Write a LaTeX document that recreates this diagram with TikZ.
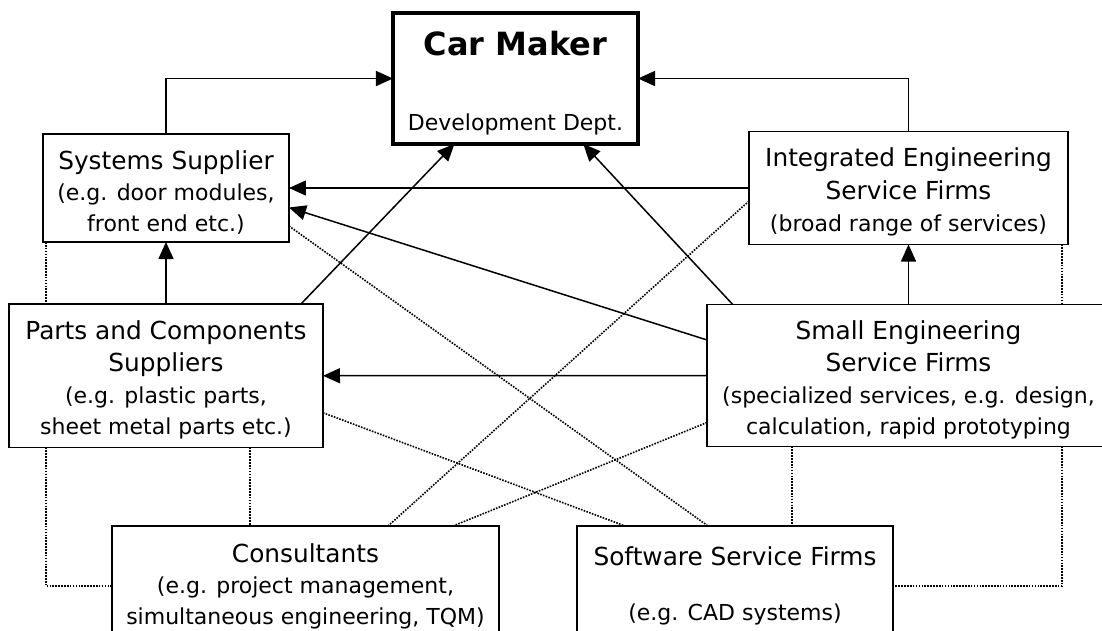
\documentclass[tikz,border=0pt]{standalone}
\usepackage{fontspec}
\setmainfont{DejaVu Sans}
\usetikzlibrary{positioning,arrows.meta}
\newcommand{\subline}{\fontsize{22}{29}\selectfont}
\newcommand{\padtop}[1]{\rule{0pt}{#1}}

\begin{document}
\begin{tikzpicture}[
box/.style={rectangle, draw=black, line width=1.6pt, outer sep=0pt, inner sep=2pt, align=center, font=\fontsize{24.8}{31}\selectfont},
carbox/.style={box, line width=3.3pt},
arr/.style={-{Triangle[length=17pt, width=15pt]}, line width=1.5pt},
dots/.style={line width=1.6pt, dash pattern=on 1.6pt off 1.3pt},
]
\useasboundingbox (-515.5pt,78.5pt) rectangle (586.5pt,-551.5pt);
\clip (-515.5pt,78.5pt) rectangle (586.5pt,-551.5pt);

%Car maker
\node[carbox, minimum width=245pt, minimum height=131pt] (car) {{\fontsize{32}{31}\bfseries\padtop{34pt}Car Maker}\\[44pt]\subline Development Dept.};

%Upper row
\node[box, minimum width=246pt, minimum height=108pt] (sys) [below left=-10pt and 104pt of car] {\padtop{27pt}Systems Supplier\\\subline (e.g. door modules,\\\subline front end etc.)};
\node[box, minimum width=319pt, minimum height=113pt] (int) [right=460pt of sys] {\padtop{26pt}Integrated Engineering\\[2pt]Service Firms\\[1pt]\subline (broad range of services)};

%Middle row
\node[box, minimum width=314pt, minimum height=143.5pt] (parts) [below=62pt of sys] {\padtop{28pt}Parts and Components\\[1pt]Suppliers\\[1pt]\subline (e.g. plastic parts,\\\subline sheet metal parts etc.)};
\node[box, minimum width=403pt, minimum height=142pt] (small) [below=60pt of int] {\padtop{28pt}Small Engineering\\[1pt]Service Firms\\[1pt]\subline (specialized services, e.g. design,\\\subline calculation, rapid prototyping};

%Bottom row
\node[box, minimum width=387pt, minimum height=120pt] (cons) [below right=78.5pt and 103pt of parts.south west] {Consultants\\\subline (e.g. project management,\\\subline simultaneous engineering, TQM)};
\node[box, minimum width=316pt, minimum height=120pt] (soft) [right=78pt of cons] {Software Service Firms\\[24pt]\subline (e.g. CAD systems)};

%Solid connections
\draw[arr] (sys.north) |- (car.west);
\draw[arr] (int.north) |- (car.east);
\draw[arr] (parts.north) -- (sys.south);
\draw[arr] (small.north) -- (int.south);
\draw[arr] (int.west) -- (sys.east);
\draw[arr] (small.west) -- (parts.east);
\draw[arr] (parts.28) -- (car.227);
\draw[arr] (small.158) -- (car.316);
\draw[arr] (small.170) -- (sys.351);

%Dotted connections
\draw[dots] ([xshift=3pt]sys.south west) -- ([xshift=37pt]parts.north west);
\draw[dots] ([xshift=-6pt]int.south east) -- ([xshift=-48pt]small.north east);
\draw[dots] ([yshift=16pt]sys.south east) -- ([xshift=131pt]soft.north west);
\draw[dots] ([yshift=-13pt]int.west) -- ([xshift=276pt]cons.north west);
\draw[dots] ([yshift=-37pt]parts.east) -- ([xshift=48pt]soft.north west);
\draw[dots] ([xshift=341pt]cons.north west) -- ([yshift=-47pt]small.west);
\draw[dots] ([xshift=241pt]parts.south west) -- ([xshift=138pt]cons.north west);
\draw[dots] ([xshift=85pt]small.south west) -- ([xshift=215pt]soft.north west);
\draw[dots] ([xshift=37pt]parts.south west) |- (cons.west);
\draw[dots] ([xshift=-48pt]small.south east) |- (soft.east);
\end{tikzpicture}
\end{document}
